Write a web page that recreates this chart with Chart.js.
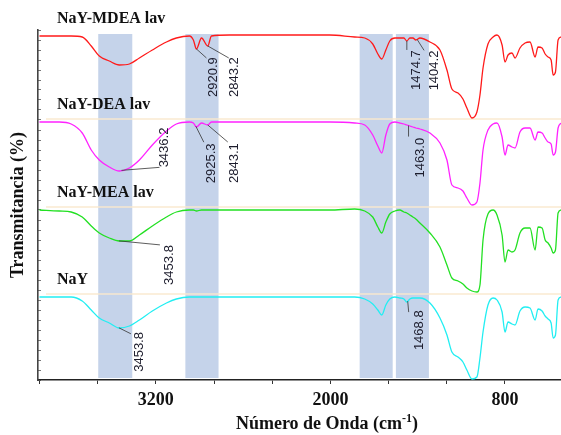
<!DOCTYPE html>
<html lang="es">
<head>
<meta charset="utf-8">
<title>Espectros FTIR</title>
<script src="https://cdn.jsdelivr.net/npm/chart.js@4.4.1/dist/chart.umd.min.js"></script>
<style>
  html, body { margin: 0; padding: 0; background: #fff; }
  #caja { width: 561px; height: 435px; }
</style>
</head>
<body>
<div id="caja"><canvas id="graficoFTIR"></canvas></div>
<script>
// Número de onda (cm-1), común a los cuatro espectros
const numeroOnda = [4000, 3864, 3782, 3706, 3644, 3589, 3520, 3451, 3382, 3313, 3224, 3127, 3059, 2969, 2942, 2921, 2886, 2843, 2818, 2694,
  2349, 2005, 1833, 1764, 1709, 1674, 1647, 1619, 1592, 1557, 1523, 1495, 1475, 1454, 1433, 1413, 1385, 1316, 1247, 1199,
  1165, 1123, 1089, 1062, 1027, 993, 972, 951, 917, 882, 855, 820, 800, 779, 752, 731, 697, 662, 628, 593,
  573, 545, 524, 504, 483, 469, 453, 435, 414];

// Transmitancia (u.a., espectros desplazados verticalmente)
const nayMDEA = [344, 344, 344, 343, 334, 324, 319, 315, 316, 322, 330, 338, 342, 344, 340, 331, 342, 334, 344, 345,
  345, 345, 343, 342, 336, 326, 321, 330, 339, 342, 342, 342, 339, 342, 342, 340, 342, 338, 330, 310,
  291, 287, 281, 272, 262, 268, 285, 312, 336, 343, 345, 335, 318, 325, 327, 322, 332, 337, 338, 323,
  333, 332, 326, 323, 320, 305, 308, 340, 343];
const nayDEA = [258, 258, 256, 247, 230, 220, 213, 209, 212, 220, 235, 249, 256, 258, 257, 253, 257, 255, 258, 258,
  258, 258, 257, 255, 245, 234, 227, 245, 256, 258, 257, 256, 255, 254, 253, 252, 251, 247, 237, 220,
  195, 192, 189, 182, 175, 178, 197, 230, 250, 256, 257, 243, 225, 235, 233, 232, 248, 252, 252, 240,
  248, 247, 242, 238, 236, 225, 228, 252, 257];
const nayMEA = [170, 169, 168, 163, 154, 147, 142, 139, 139, 145, 154, 163, 168, 170, 170, 169, 170, 170, 170, 170,
  170, 170, 171, 169, 163, 153, 147, 158, 166, 169, 170, 168, 167, 165, 163, 161, 157, 147, 133, 115,
  102, 99, 96, 92, 89, 88, 95, 140, 166, 170, 165, 145, 118, 130, 128, 130, 147, 152, 152, 130,
  153, 152, 140, 137, 132, 127, 130, 167, 170];
const nay = [83, 83, 83, 79, 70, 62, 57, 52, 54, 60, 69, 77, 81, 83, 83, 83, 83, 83, 83, 83,
  83, 83, 83, 81, 76, 70, 65, 75, 81, 83, 82, 81, 78, 81, 82, 82, 82, 77, 62, 45,
  28, 23, 18, 10, 1, 3, 22, 48, 75, 82, 80, 68, 48, 58, 56, 55, 69, 73, 72, 60,
  71, 69, 64, 61, 57, 42, 45, 80, 83];

const nombres = ['NaY-MDEA lav', 'NaY-DEA lav', 'NaY-MEA lav', 'NaY'];
const colores = ['#ff1a1a', '#ff22ff', '#22e022', '#22eef2'];
const espectros = [nayMDEA, nayDEA, nayMEA, nay];

// Marcas del eje x y las que llevan número
const marcasX = [4000, 3600, 3200, 2800, 2400, 2000, 1600, 1200, 800];
const etiquetasX = [3200, 2000, 800];

// Regiones sombreadas (cm-1)
const bandas = [[3596, 3362], [2997, 2769], [1799, 1572], [1550, 1323]];

// Picos señalados: espectro, número de onda, texto
const picos = [
  { serie: 0, onda: 2920.9, texto: '2920.9', dx: 17, dy: 48, lx: 10, ly: 9 },
  { serie: 0, onda: 2843.2, texto: '2843.2', dx: 27, dy: 51, lx: 21, ly: 12 },
  { serie: 0, onda: 1474.7, texto: '1474.7', dx: 10, dy: 49, lx: 0, ly: 9 },
  { serie: 0, onda: 1404.2, texto: '1404.2', dx: 17, dy: 51, lx: 7, ly: 11 },
  { serie: 1, onda: 3436.2, texto: '3436.2', dx: 43, dy: -3, lx: 38, ly: -3 },
  { serie: 1, onda: 2925.3, texto: '2925.3', dx: 16, dy: 57, lx: 8, ly: 16 },
  { serie: 1, onda: 2843.1, texto: '2843.1', dx: 27, dy: 58, lx: 20, ly: 17 },
  { serie: 1, onda: 1463.0, texto: '1463.0', dx: 12, dy: 52, lx: 0, ly: 11 },
  { serie: 2, onda: 3453.8, texto: '3453.8', dx: 51, dy: 44, lx: 41, ly: 4 },
  { serie: 3, onda: 3453.8, texto: '3453.8', dx: 21, dy: 44, lx: 12, ly: 6 },
  { serie: 3, onda: 1468.8, texto: '1468.8', dx: 12, dy: 49, lx: 1, ly: 11 }
];

function valorEn(valores, onda) {
  for (let i = 0; i < numeroOnda.length - 1; i++) {
    const a = numeroOnda[i], b = numeroOnda[i + 1];
    if (onda <= a && onda >= b) {
      return valores[i] + (valores[i + 1] - valores[i]) * (a - onda) / (a - b);
    }
  }
  return valores[valores.length - 1];
}

const serif = '"Liberation Serif", "Times New Roman", serif';

const extras = {
  id: 'extras',
  beforeDatasetsDraw(chart) {
    const { ctx, chartArea, scales: { x, y } } = chart;
    ctx.save();
    // franjas azules
    ctx.fillStyle = 'rgb(197, 211, 234)';
    bandas.forEach(b => {
      const x1 = x.getPixelForValue(b[0]);
      const x2 = x.getPixelForValue(b[1]);
      const y1 = y.getPixelForValue(346);
      const y2 = y.getPixelForValue(2);
      ctx.fillRect(Math.min(x1, x2), y1, Math.abs(x2 - x1), y2 - y1);
    });
    // separadores tenues
    ctx.strokeStyle = 'rgba(250, 232, 205, 0.7)';
    ctx.lineWidth = 2;
    espectros.slice(1).forEach(v => {
      const yy = y.getPixelForValue(v[0] + 3);
      ctx.beginPath();
      ctx.moveTo(chartArea.left + 8, yy);
      ctx.lineTo(chartArea.right, yy);
      ctx.stroke();
    });
    ctx.restore();
  },
  afterDatasetsDraw(chart) {
    const { ctx, scales: { x, y } } = chart;
    ctx.save();
    // nombres de los espectros
    ctx.fillStyle = '#111';
    ctx.font = 'bold 16px ' + serif;
    ctx.textAlign = 'left';
    ctx.textBaseline = 'middle';
    espectros.forEach((v, i) => {
      ctx.fillText(nombres[i], 57, y.getPixelForValue(v[0]) - 17);
    });
    // picos
    ctx.font = '13px "Liberation Sans", Arial, sans-serif';
    picos.forEach(p => {
      const px = x.getPixelForValue(p.onda);
      const py = y.getPixelForValue(valorEn(espectros[p.serie], p.onda));
      ctx.strokeStyle = '#333';
      ctx.lineWidth = 0.8;
      ctx.beginPath();
      ctx.moveTo(px, py);
      ctx.lineTo(px + p.lx, py + p.ly);
      ctx.stroke();
      ctx.save();
      ctx.translate(px + p.dx, py + p.dy);
      ctx.rotate(-Math.PI / 2);
      ctx.fillStyle = '#1c1c2c';
      ctx.textAlign = 'left';
      ctx.textBaseline = 'middle';
      ctx.fillText(p.texto, 0, 0);
      ctx.restore();
    });
    // título del eje x
    const t1 = 'Número de Onda (cm', t2 = '-1', t3 = ')';
    ctx.fillStyle = '#111';
    ctx.textBaseline = 'alphabetic';
    ctx.font = 'bold 18px ' + serif;
    const w1 = ctx.measureText(t1).width, w3 = ctx.measureText(t3).width;
    ctx.font = 'bold 12px ' + serif;
    const w2 = ctx.measureText(t2).width;
    const xx = 327 - (w1 + w2 + w3) / 2;
    const base = 429;
    ctx.font = 'bold 18px ' + serif;
    ctx.fillText(t1, xx, base);
    ctx.font = 'bold 12px ' + serif;
    ctx.fillText(t2, xx + w1, base - 7);
    ctx.font = 'bold 18px ' + serif;
    ctx.fillText(t3, xx + w1 + w2, base);
    ctx.restore();
  }
};

const ctx = document.getElementById('graficoFTIR').getContext('2d');
new Chart(ctx, {
  type: 'line',
  data: {
    datasets: espectros.map((v, i) => ({
      label: nombres[i],
      data: numeroOnda.map((o, k) => ({ x: o, y: v[k] })),
      borderColor: colores[i],
      borderWidth: 1.3,
      pointRadius: 0,
      cubicInterpolationMode: 'monotone',
      fill: false
    }))
  },
  options: {
    responsive: true,
    maintainAspectRatio: false,
    animation: false,
    layout: { padding: { top: 30, left: 0, right: 0, bottom: 0 } },
    plugins: { legend: { display: false }, tooltip: { enabled: false } },
    scales: {
      x: {
        type: 'linear',
        reverse: true,
        min: 415,
        max: 4010,
        afterBuildTicks: s => { s.ticks = marcasX.map(v => ({ value: v })); },
        afterFit: s => { s.height = 55; },
        border: { color: '#222', width: 1.6 },
        grid: { drawOnChartArea: false, tickLength: 4, color: '#333' },
        ticks: {
          autoSkip: false,
          maxRotation: 0,
          padding: 6,
          color: '#111',
          font: { family: serif, size: 18, weight: 'bold' },
          callback: v => (etiquetasX.includes(Math.round(v)) ? String(Math.round(v)) : '')
        }
      },
      y: {
        min: 0,
        max: 350,
        afterFit: s => { s.width = 38; },
        border: { color: '#444', width: 1.6 },
        grid: { drawOnChartArea: false, tickLength: -3, color: '#777' },
        ticks: { display: false, stepSize: 10 },
        title: {
          display: true,
          text: 'Transmitancia (%)',
          color: '#111',
          padding: { top: 8 },
          font: { family: serif, size: 18, weight: 'bold' }
        }
      }
    }
  },
  plugins: [extras]
});
</script>
</body>
</html>
